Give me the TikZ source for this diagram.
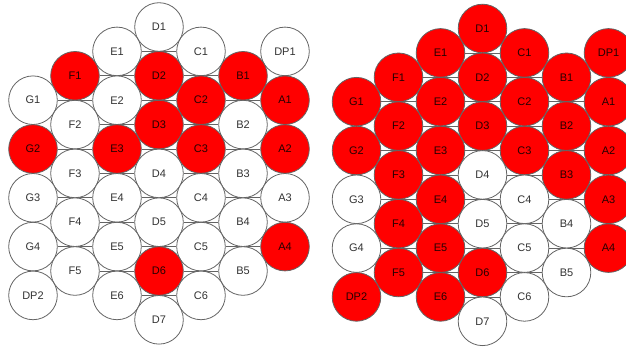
\documentclass[tikz,border=0pt]{standalone}
\usepackage{fontspec}
\setmainfont{Liberation Sans}
\usetikzlibrary{backgrounds}
\definecolor{fault}{HTML}{FF0000}
\definecolor{rim}{HTML}{646464}

% column/row/name/left map/right map
\newcommand{\cellmap}{3/0/D1/ok/bad, 2/1/E1/ok/bad, 4/1/C1/ok/bad, 6/1/DP1/ok/bad,
  1/2/F1/bad/bad, 3/2/D2/bad/bad, 5/2/B1/bad/bad,
  0/3/G1/ok/bad, 2/3/E2/ok/bad, 4/3/C2/bad/bad, 6/3/A1/bad/bad,
  1/4/F2/ok/bad, 3/4/D3/bad/bad, 5/4/B2/ok/bad,
  0/5/G2/bad/bad, 2/5/E3/bad/bad, 4/5/C3/bad/bad, 6/5/A2/bad/bad,
  1/6/F3/ok/bad, 3/6/D4/ok/ok, 5/6/B3/ok/bad,
  0/7/G3/ok/ok, 2/7/E4/ok/bad, 4/7/C4/ok/ok, 6/7/A3/ok/bad,
  1/8/F4/ok/bad, 3/8/D5/ok/ok, 5/8/B4/ok/ok,
  0/9/G4/ok/ok, 2/9/E5/ok/bad, 4/9/C5/ok/ok, 6/9/A4/bad/bad,
  1/10/F5/ok/bad, 3/10/D6/bad/bad, 5/10/B5/ok/ok,
  0/11/DP2/ok/bad, 2/11/E6/ok/bad, 4/11/C6/ok/ok,
  3/12/D7/ok/ok}

\begin{document}
\begin{tikzpicture}[x=1pt, y=-1pt,
    cell/.style={circle, draw=rim, line width=0.8pt, minimum size=48.6pt, inner sep=0pt,
      font=\fontsize{11}{13}\selectfont, text=black!80},
    ok/.style={fill=white},
    bad/.style={fill=fault, text=black!85!fault},
    seam/.style={draw=rim, line width=0.7pt}
]
\useasboundingbox (0,0) rectangle (626,348);

\foreach \c/\k/\n/\lf/\rf in \cellmap {
  \node[cell, \lf] (l-\n) at ({33+42*\c},{27+24.4*\k}) {\n};
  \node[cell, \rf] (r-\n) at ({356.5+42*\c},{28.5+24.4*\k}) {\n};
}

% row lines behind the cells
\begin{scope}[on background layer]
\foreach \s in {l,r} {
  \draw[seam] (\s-E1) -- (\s-C1);
  \draw[seam] (\s-F1) -- (\s-D2) -- (\s-B1);
  \draw[seam] (\s-G1) -- (\s-E2) -- (\s-C2) -- (\s-A1);
  \draw[seam] (\s-F2) -- (\s-D3) -- (\s-B2);
  \draw[seam] (\s-G2) -- (\s-E3) -- (\s-C3) -- (\s-A2);
  \draw[seam] (\s-F3) -- (\s-D4) -- (\s-B3);
  \draw[seam] (\s-G3) -- (\s-E4) -- (\s-C4) -- (\s-A3);
  \draw[seam] (\s-F4) -- (\s-D5) -- (\s-B4);
  \draw[seam] (\s-G4) -- (\s-E5) -- (\s-C5) -- (\s-A4);
  \draw[seam] (\s-F5) -- (\s-D6) -- (\s-B5);
  \draw[seam] (\s-E6) -- (\s-C6);
}
\end{scope}
\end{tikzpicture}
\end{document}
